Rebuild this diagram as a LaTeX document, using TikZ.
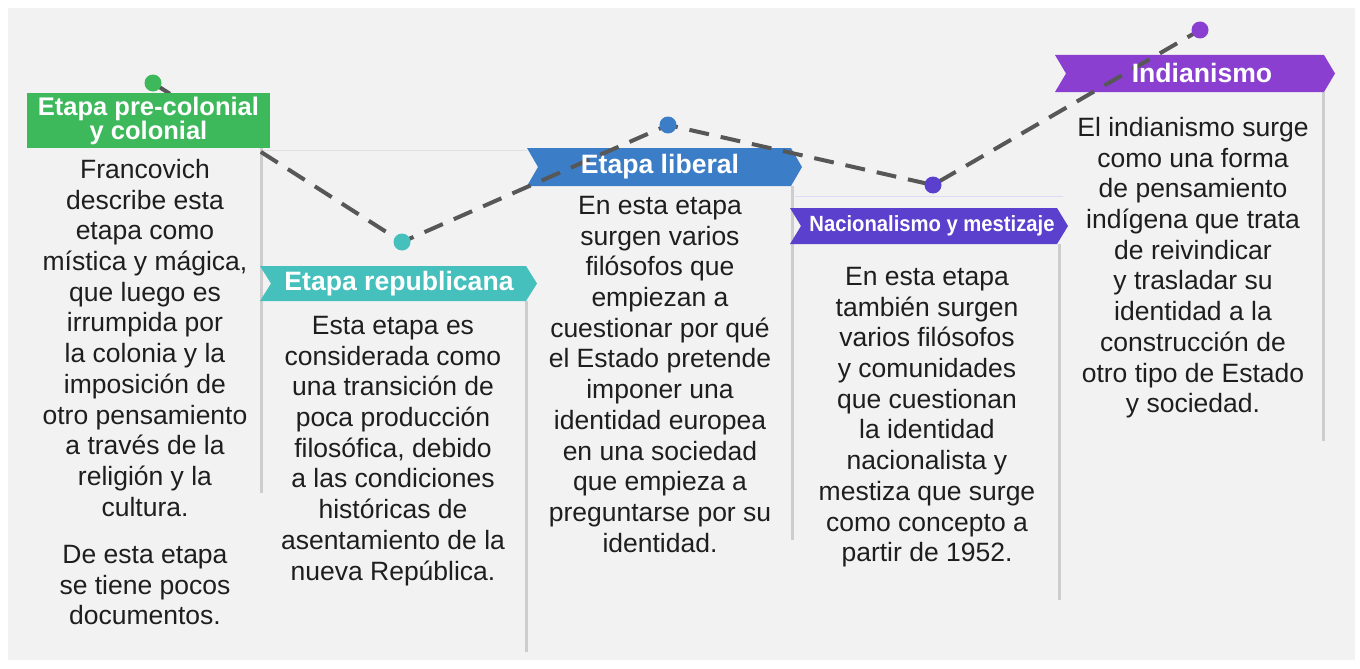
\documentclass[tikz,border=0pt]{standalone}
\usepackage{fontspec}
\setmainfont{Liberation Sans}
\definecolor{cgreen}{HTML}{3DB85B}
\definecolor{cteal}{HTML}{45C0BC}
\definecolor{cblue}{HTML}{3B7DC6}
\definecolor{cindigo}{HTML}{5A40CC}
\definecolor{cpurple}{HTML}{8A3FD0}
\definecolor{panel}{HTML}{F2F2F2}
\definecolor{textc}{HTML}{1E1E1E}
\definecolor{dashc}{HTML}{575757}
\definecolor{shadowc}{HTML}{CDCDCD}
\newcommand{\hdrshape}[5]{\fill[#5] (#1,#3) -- ({#2-11},#3) -- (#2,{(#3+#4)/2}) -- ({#2-11},#4) -- (#1,#4) -- ({#1+11},{(#3+#4)/2}) -- cycle;}
\tikzset{
  body/.style={anchor=north, align=center, inner sep=0pt, text=textc,
    font=\fontsize{26.5}{30.7}\selectfont},
  hdr/.style={inner sep=0pt, align=center, text=white,
    font=\fontsize{26.6}{24}\selectfont\bfseries},
  conn/.style={draw=dashc, line width=4pt, dash pattern=on 20pt off 12pt},
  dotn/.style={circle, minimum size=17pt, inner sep=0pt},
  shade/.style={draw=shadowc, line width=3pt},
}
\begin{document}
\begin{tikzpicture}[x=1pt,y=-1pt]
\useasboundingbox (0,0) rectangle (1360,669);
\fill[white] (0,0) rectangle (1360,669);
\fill[panel] (8,8) rectangle (1355,660);

% card edges
\draw[shade] (261,148) -- (261,493);
\draw[shade] (526,301) -- (526,652);
\draw[shade] (792,186) -- (792,540);
\draw[shade] (1059,244) -- (1059,600);
\draw[shade] (1323,92) -- (1323,441);
\draw[draw=black!12, line width=1pt] (261,150) -- (527,150);
\draw[draw=cindigo!20, line width=1pt] (795,196) -- (1063,196);

% chevron headers
\hdrshape{260}{537}{266}{301}{cteal}
\hdrshape{527}{802}{148}{186}{cblue}
\hdrshape{790}{1068}{208}{244}{cindigo}
\hdrshape{1055}{1335}{55}{92}{cpurple}

% timeline points
\coordinate (p1) at (153,83);
\coordinate (p2) at (402,242);
\coordinate (p3) at (668,125);
\coordinate (p4) at (933,185);
\coordinate (p5) at (1200,30);
\draw[conn] (p1) -- (p2) -- (p3) -- (p4) -- (p5);

% header texts
\node[hdr] (h2) at (399,284) {Etapa republicana};
\node[hdr] (h3) at (660,167) {Etapa liberal};
\node[hdr, font=\fontsize{22}{24}\selectfont\bfseries] (h4) at (932,226) {\scalebox{0.92}[1]{Nacionalismo y mestizaje}};
\node[hdr] (h5) at (1202,73) {Indianismo};
\node[hdr, fill=cgreen, minimum width=243pt, minimum height=55pt, font=\fontsize{25.5}{24}\selectfont\bfseries] (h1) at (148.5,120.5) {Etapa pre-colonial\\y colonial};

% dots
\node[dotn, fill=cgreen] (d1) at (p1) {};
\node[dotn, fill=cteal] (d2) at (p2) {};
\node[dotn, fill=cblue] (d3) at (p3) {};
\node[dotn, fill=cindigo] (d4) at (p4) {};
\node[dotn, fill=cpurple] (d5) at (p5) {};

% body texts
\node[body] (t1) at (145,159) {Francovich\\describe esta\\etapa como\\mística y mágica,\\que luego es\\irrumpida por\\la colonia y la\\imposición de\\otro pensamiento\\a través de la\\religión y la\\cultura.};
\node[body] (t1b) at (145,545) {De esta etapa\\se tiene pocos\\documentos.};
\node[body] (t2) at (393,316) {Esta etapa es\\considerada como\\una transición de\\poca producción\\filosófica, debido\\a las condiciones\\históricas de\\asentamiento de la\\nueva República.};
\node[body] (t3) at (660,196) {En esta etapa\\surgen varios\\filósofos que\\empiezan a\\cuestionar por qué\\el Estado pretende\\imponer una\\identidad europea\\en una sociedad\\que empieza a\\preguntarse por su\\identidad.};
\node[body] (t4) at (927,267) {En esta etapa\\también surgen\\varios filósofos\\y comunidades\\que cuestionan\\la identidad\\nacionalista y\\mestiza que surge\\como concepto a\\partir de 1952.};
\node[body] (t5) at (1193,117) {El indianismo surge\\como una forma\\de pensamiento\\indígena que trata\\de reivindicar\\y trasladar su\\identidad a la\\construcción de\\otro tipo de Estado\\y sociedad.};
\end{tikzpicture}
\end{document}
